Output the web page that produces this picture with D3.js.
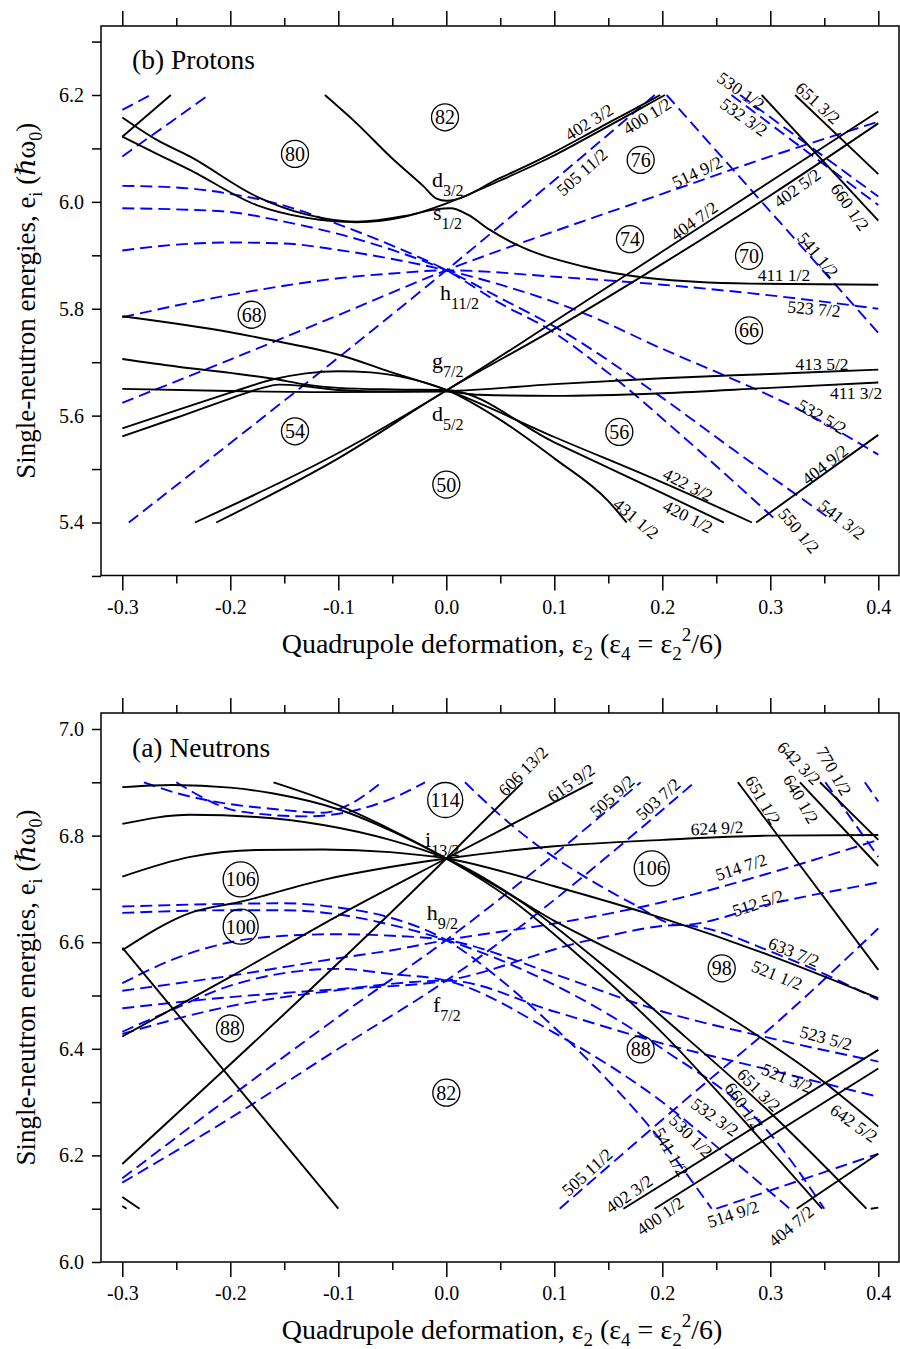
<!DOCTYPE html>
<html><head><meta charset="utf-8">
<script src="https://cdn.jsdelivr.net/npm/d3@7"></script>
<style>
body{margin:0;background:#fff}
svg{display:block}
svg text{font-family:'Liberation Serif','Times New Roman',Times,'DejaVu Serif',serif !important;fill:#000}
</style>
</head><body>
<svg id="chart" width="900" height="1349" font-family="Liberation Serif, serif"></svg>
<script>
// ---------- Proton levels (e_i vs eps2) ----------
// positive parity (solid)
const protonPositive = [
  [[-0.3,6.122],[-0.255,6.2]],
  [[-0.3,6.158],[-0.268,6.116],[-0.2375,6.085],[-0.1756,6.01],[-0.129,5.976],[-0.083,5.963],[-0.037,5.974],[-0.01,5.986],[0.004,5.988],[0.02,5.976],[0.04,5.948],[0.065,5.92],[0.127,5.879],[0.189,5.857],[0.281,5.847],[0.4,5.845]],
  [[-0.3,6.122],[-0.268,6.09],[-0.2375,6.06],[-0.1756,5.994],[-0.129,5.97],[-0.083,5.962],[-0.037,5.973],[0,5.997],[0.05,6.04],[0.096,6.083],[0.142,6.133],[0.189,6.185],[0.2025,6.2]],
  [[-0.1124,6.2],[-0.083,6.147],[-0.052,6.085],[-0.021,6.029],[-0.009,6.006],[0,6.002],[0.05,6.045],[0.096,6.089],[0.142,6.139],[0.189,6.19],[0.198,6.2]],
  [[-0.3,5.786],[-0.2,5.756],[-0.1617,5.741],[-0.098,5.713],[-0.052,5.682],[0,5.648],[0.1,5.56],[0.2,5.475],[0.283,5.4]],
  [[-0.3,5.706],[-0.25,5.692],[-0.2,5.68],[-0.16,5.669],[-0.13,5.658],[-0.1,5.652],[-0.05,5.649],[0,5.648],[0.1,5.55],[0.2,5.455],[0.257,5.4]],
  [[-0.3,5.65],[-0.2,5.646],[-0.1,5.644],[0,5.646],[0.1,5.659],[0.2,5.67],[0.3,5.678],[0.4,5.686]],
  [[-0.3,5.576],[-0.25,5.61],[-0.2,5.643],[-0.16,5.668],[-0.13,5.679],[-0.1,5.683],[-0.07,5.681],[-0.04,5.672],[0,5.648],[0.05,5.592],[0.1,5.52],[0.15,5.44],[0.167,5.4]],
  [[-0.3,5.561],[-0.25,5.596],[-0.2,5.632],[-0.17,5.652],[-0.155,5.658],[-0.13,5.655],[-0.1,5.648],[-0.05,5.645],[0,5.645],[0.03,5.639],[0.1,5.637],[0.2,5.642],[0.3,5.652],[0.4,5.662]],
  [[-0.2327,5.4],[-0.1,5.53],[0,5.647],[0.1,5.776],[0.2,5.907],[0.3,6.038],[0.4,6.169]],
  [[-0.213,5.4],[-0.1,5.52],[0,5.647],[0.1,5.762],[0.2,5.884],[0.3,6.012],[0.4,6.147]],
  [[0.287,5.4],[0.4,5.564]],
  [[0.292,6.2],[0.4,5.965]],
  [[0.323,6.2],[0.4,6.052]]
];
// negative parity (dashed)
const protonNegative = [
  [[-0.3,6.172],[-0.274,6.2]],
  [[-0.3,6.085],[-0.22,6.2]],
  [[-0.3,6.03],[-0.25,6.027],[-0.2,6.015],[-0.15,5.993],[-0.1,5.958],[-0.05,5.918],[0,5.872],[0.05,5.81],[0.093,5.764],[0.15,5.68],[0.219,5.561],[0.305,5.405]],
  [[-0.3,5.988],[-0.25,5.986],[-0.2,5.981],[-0.15,5.963],[-0.1,5.94],[-0.05,5.91],[0,5.872],[0.05,5.82],[0.105,5.761],[0.189,5.649],[0.266,5.536],[0.354,5.409]],
  [[-0.3,5.909],[-0.25,5.92],[-0.2,5.924],[-0.15,5.922],[-0.1,5.91],[-0.05,5.893],[0,5.872],[0.05,5.845],[0.127,5.792],[0.2,5.725],[0.26,5.673],[0.327,5.611],[0.4,5.527]],
  [[-0.3,5.784],[-0.25,5.806],[-0.2,5.826],[-0.15,5.843],[-0.1,5.857],[-0.05,5.866],[0,5.872],[0.1,5.86],[0.2,5.845],[0.3,5.825],[0.4,5.8]],
  [[-0.3,5.624],[-0.2,5.705],[-0.1,5.788],[0,5.872],[0.1,5.945],[0.2,6.015],[0.3,6.085],[0.4,6.15]],
  [[-0.294,5.4],[0,5.872],[0.193,6.2]],
  [[0.204,6.2],[0.4,5.755]],
  [[0.264,6.2],[0.4,5.994]],
  [[0.272,6.2],[0.4,6.01]]
];
// Nilsson labels: [text, eps, e, rotation]
const protonLevelLabels = [
  ["402 3/2",0.1321,6.1495,-32],["400 1/2",0.1858,6.1607,-32],["505 11/2",0.1256,6.056,-42],
  ["514 9/2",0.2321,6.056,-25],["404 7/2",0.2293,5.9645,-36],["402 5/2",0.3247,6.0262,-36],
  ["541 1/2",0.3442,5.901,50],["411 1/2",0.3127,5.8636,0],["530 1/2",0.2729,6.2075,35],
  ["532 3/2",0.2757,6.1589,35],["651 3/2",0.3442,6.185,42],["660 1/2",0.3738,5.9907,55],
  ["523 7/2",0.3405,5.80,5],["413 5/2",0.3479,5.6972,0],["411 3/2",0.3794,5.643,0],
  ["532 5/2",0.3479,5.5981,30],["404 9/2",0.3505,5.5084,-38],["422 3/2",0.2238,5.471,27],
  ["420 1/2",0.2238,5.4112,27],["431 1/2",0.1757,5.4075,40],["550 1/2",0.3266,5.385,50],
  ["541 3/2",0.3664,5.4056,38]
];
// spherical orbitals: [letter, subscript, eps, e]
const protonOrbitals = [
  ["d","3/2",-0.0132,6.028],["s","1/2",-0.0123,5.9664],["h","11/2",-0.0058,5.8168],
  ["g","7/2",-0.0132,5.6897],["d","5/2",-0.0132,5.5894]
];
// shell gaps: [number, eps, e]
const protonGaps = [
  ["80",-0.1401,6.0897],["82",-0.0012,6.1583],["76",0.18,6.0785],["74",0.1701,5.9303],
  ["70",0.2803,5.899],["68",-0.1802,5.7888],["66",0.2803,5.7594],["54",-0.1401,5.5707],
  ["56",0.1602,5.5695],["50",0,5.471]
];

// ---------- Neutron levels ----------
const neutronPositive = [
  [[-0.16,6.9],[-0.1,6.857],[-0.05,6.81],[0,6.757],[0.06,6.68],[0.127,6.567],[0.2,6.43],[0.28,6.255],[0.348,6.1]],
  [[-0.3,6.891],[-0.253,6.895],[-0.2,6.89],[-0.16,6.879],[-0.098,6.848],[-0.052,6.81],[0,6.757],[0.07,6.675],[0.139,6.567],[0.2,6.46],[0.3,6.28],[0.389,6.1]],
  [[-0.3,6.822],[-0.237,6.839],[-0.176,6.835],[-0.114,6.82],[-0.052,6.792],[0,6.757],[0.1,6.64],[0.2,6.535],[0.266,6.454],[0.343,6.348],[0.4,6.254]],
  [[-0.3,6.723],[-0.237,6.76],[-0.176,6.773],[-0.114,6.774],[-0.052,6.769],[0,6.757],[0.1,6.705],[0.2,6.645],[0.3,6.575],[0.4,6.495]],
  [[-0.3,6.585],[-0.237,6.655],[-0.19,6.676],[-0.114,6.717],[-0.052,6.741],[0,6.757],[0.1,6.78],[0.2,6.792],[0.3,6.8],[0.4,6.801]],
  [[-0.3,6.184],[0,6.757],[0.0707,6.9]],
  [[-0.3,6.423],[-0.2,6.535],[-0.1,6.65],[0,6.757],[0.1355,6.9]],
  [[-0.3,6.59],[-0.1,6.1]],
  [[-0.3,6.122],[-0.284,6.1]],
  [[-0.3,6.105],[-0.296,6.1]],
  [[0.164,6.1],[0.4,6.398]],
  [[0.193,6.1],[0.4,6.363]],
  [[0.3244,6.1],[0.4,6.203]],
  [[0.27,6.9],[0.4,6.548]],
  [[0.3275,6.9],[0.4,6.743]],
  [[0.346,6.9],[0.4,6.792]],
  [[0.393,6.1],[0.4,6.102]]
];
const neutronNegative = [
  [[-0.28,6.9],[-0.25,6.88],[-0.2065,6.861],[-0.16,6.85],[-0.114,6.843],[-0.09,6.858],[-0.06,6.9]],
  [[-0.25,6.9],[-0.19,6.845],[-0.129,6.836],[-0.083,6.848],[-0.05,6.87],[-0.0197,6.9]],
  [[0.0173,6.9],[0.05,6.838],[0.0775,6.792],[0.133,6.717],[0.173,6.672],[0.216,6.632],[0.3,6.672],[0.4,6.712]],
  [[-0.3,6.667],[-0.2,6.672],[-0.15,6.673],[-0.1,6.665],[-0.05,6.645],[0,6.604],[0.05,6.53],[0.1,6.44],[0.15,6.34],[0.2,6.225],[0.2457,6.1]],
  [[-0.3,6.655],[-0.2,6.66],[-0.15,6.66],[-0.1,6.652],[-0.05,6.632],[0,6.604],[0.1,6.52],[0.2,6.4],[0.3,6.24],[0.35,6.1]],
  [[-0.3,6.523],[-0.25,6.57],[-0.2,6.6],[-0.15,6.612],[-0.1,6.615],[-0.05,6.612],[0,6.604],[0.1,6.54],[0.2,6.47],[0.3,6.42],[0.4,6.376]],
  [[-0.3,6.509],[-0.2,6.537],[-0.1,6.57],[-0.05,6.585],[0,6.604],[0.1,6.635],[0.2,6.675],[0.3,6.73],[0.4,6.792]],
  [[-0.3,6.157],[-0.2,6.31],[-0.1,6.46],[0,6.604],[0.18,6.9]],
  [[-0.3,6.476],[-0.2,6.497],[-0.1,6.512],[0,6.528],[0.1,6.47],[0.2,6.41],[0.3,6.36],[0.4,6.31]],
  [[-0.3,6.149],[-0.2,6.27],[-0.1,6.4],[0,6.528],[0.23,6.9]],
  [[-0.3,6.432],[-0.254,6.473],[-0.2065,6.514],[-0.1756,6.532],[-0.1,6.55],[-0.05,6.54],[0,6.528],[0.1,6.43],[0.2,6.3],[0.26,6.2],[0.318,6.1]],
  [[-0.3,6.428],[-0.2,6.48],[-0.1,6.51],[0,6.528],[0.133,6.604],[0.216,6.632],[0.312,6.573],[0.4,6.492]],
  [[0.105,6.1],[0.219,6.3],[0.312,6.46],[0.4,6.626]],
  [[0.25,6.1],[0.4,6.203]],
  [[0.351,6.9],[0.4,6.76]],
  [[0.3875,6.9],[0.4,6.864]]
];
const neutronLevelLabels = [
  ["606 13/2",0.071,6.9212,-45],["615 9/2",0.1155,6.8987,-35],["505 9/2",0.1534,6.8743,-42],
  ["503 7/2",0.196,6.8687,-42],["624 9/2",0.2507,6.8143,-3],["651 1/2",0.2933,6.8668,60],
  ["642 3/2",0.3266,6.9362,45],["640 1/2",0.3284,6.8687,60],["770 1/2",0.359,6.9212,60],
  ["514 7/2",0.2729,6.7411,-18],["512 5/2",0.2886,6.6735,-18],["633 7/2",0.3219,6.5816,22],
  ["521 1/2",0.3062,6.5385,22],["523 5/2",0.3516,6.4203,15],["521 3/2",0.3155,6.3452,22],
  ["651 3/2",0.2895,6.3227,45],["660 1/2",0.2756,6.2927,55],["642 5/2",0.3775,6.2608,35],
  ["532 3/2",0.2488,6.272,35],["530 1/2",0.2266,6.2364,45],["541 1/2",0.208,6.2064,60],
  ["505 11/2",0.1303,6.1689,-42],["402 3/2",0.1692,6.1276,-35],["400 1/2",0.1979,6.0863,-35],
  ["514 9/2",0.2655,6.0901,-18],["404 7/2",0.3192,6.0675,-40]
];
const neutronOrbitals = [
  ["i","13/2",-0.0197,6.7786],["h","9/2",-0.0182,6.6417],["f","7/2",-0.0123,6.4696]
];
const neutronGaps = [
  ["114",-0.001,6.8668],["106",-0.1904,6.718],["100",-0.1904,6.6291],["106",0.1902,6.7386],
  ["98",0.255,6.551],["88",-0.2003,6.4385],["88",0.18,6.399],["82",0,6.3176]
];

// axis ticks
const xMajor = [-0.3,-0.2,-0.1,0.0,0.1,0.2,0.3,0.4];
const xMinor = [-0.25,-0.15,-0.05,0.05,0.15,0.25,0.35];
const protonYTicks = d3.range(53,64).map(v => v/10);
const neutronYTicks = d3.range(60,71).map(v => v/10);

// ---------- drawing ----------
const svg = d3.select("#chart");
const X0 = 101, X1 = 899;
const x = d3.scaleLinear().domain([-0.3,0.4]).range([122.3,878.3]);
const fmt = d => d.toFixed(1);
const FONT = "Liberation Serif, serif";

function drawPanel(p) {
  const y = p.y;
  const g = svg.append("g");
  g.append("clipPath").attr("id", p.id).append("rect")
    .attr("x", X0).attr("y", p.top).attr("width", X1 - X0).attr("height", p.bottom - p.top);
  const line = d3.line().x(d => x(d[0])).y(d => y(d[1])).curve(d3.curveMonotoneX);
  const plot = g.append("g").attr("clip-path", `url(#${p.id})`);
  plot.selectAll("path.neg").data(p.dashed).join("path").attr("class","neg")
    .attr("d", line).attr("fill","none").attr("stroke","#0000ff")
    .attr("stroke-width",1.9).attr("stroke-dasharray","12,6");
  plot.selectAll("path.pos").data(p.solid).join("path").attr("class","pos")
    .attr("d", line).attr("fill","none").attr("stroke","#000").attr("stroke-width",1.9);

  // frame
  g.append("rect").attr("x",X0).attr("y",p.top).attr("width",X1-X0).attr("height",p.bottom-p.top)
    .attr("fill","none").attr("stroke","#000").attr("stroke-width",1.5);

  // x axes
  g.append("g").attr("transform",`translate(0,${p.bottom})`)
    .call(d3.axisBottom(x).tickValues(xMajor).tickSize(15).tickPadding(9).tickFormat(fmt));
  g.append("g").attr("transform",`translate(0,${p.bottom})`)
    .call(d3.axisBottom(x).tickValues(xMinor).tickSize(8).tickFormat(""));
  g.append("g").attr("transform",`translate(0,${p.top})`)
    .call(d3.axisTop(x).tickValues(xMajor).tickSize(15).tickFormat(""));
  g.append("g").attr("transform",`translate(0,${p.top})`)
    .call(d3.axisTop(x).tickValues(xMinor).tickSize(8).tickFormat(""));
  g.append("g").attr("transform",`translate(${X0},0)`)
    .call(d3.axisLeft(y).tickValues(p.yTicks).tickSize(9).tickPadding(8)
      .tickFormat(d => Math.round(d*10) % 2 === 0 ? fmt(d) : ""));
  g.selectAll(".domain").remove();
  g.selectAll("g[font-family]").attr("font-family", FONT);
  g.selectAll(".tick line").attr("stroke","#000").attr("stroke-width",1.5);
  g.selectAll(".tick text").attr("font-size",20);

  // shell-gap numbers
  const gaps = g.selectAll("g.gap").data(p.gaps).join("g").attr("class","gap")
    .attr("transform", d => `translate(${x(d[1])},${y(d[2])})`);
  gaps.append("circle").attr("r", d => d[0].length > 2 ? 17.5 : 13.5)
    .attr("fill","none").attr("stroke","#000").attr("stroke-width",1.3);
  gaps.append("text").attr("text-anchor","middle").attr("dy","0.35em")
    .attr("font-size",20).text(d => d[0]);

  // spherical orbitals
  const orb = g.selectAll("text.orb").data(p.orbitals).join("text").attr("class","orb")
    .attr("x", d => x(d[2])).attr("y", d => y(d[3])).attr("font-size",22);
  orb.append("tspan").text(d => d[0]);
  orb.append("tspan").attr("dy",9).attr("font-size",16).text(d => d[1]);

  // Nilsson labels
  g.selectAll("text.lvl").data(p.levels).join("text").attr("class","lvl")
    .attr("text-anchor","middle").attr("dy","0.35em").attr("font-size",17.5)
    .attr("transform", d => `translate(${x(d[1])},${y(d[2])}) rotate(${d[3]})`)
    .text(d => d[0]);

  // panel title
  g.append("text").attr("x",132).attr("y",p.titleY).attr("font-size",27.5).text(p.title);

  // axis titles
  const xt = g.append("text").attr("x",502).attr("y",p.bottom + 77).attr("text-anchor","middle").attr("font-size",28);
  xt.append("tspan").text("Quadrupole deformation, ε");
  xt.append("tspan").attr("dy",7).attr("font-size",19).text("2");
  xt.append("tspan").attr("dy",-7).text(" (ε");
  xt.append("tspan").attr("dy",7).attr("font-size",19).text("4");
  xt.append("tspan").attr("dy",-7).text(" =  ε");
  xt.append("tspan").attr("dy",7).attr("font-size",19).text("2");
  xt.append("tspan").attr("dy",-19).attr("font-size",19).text("2");
  xt.append("tspan").attr("dy",12).text("/6)");

  const cy = (p.top + p.bottom) / 2;
  const yt = g.append("text").attr("transform",`translate(35,${cy}) rotate(-90)`)
    .attr("text-anchor","middle").attr("font-size",27);
  yt.append("tspan").text("Single-neutron energies, e");
  yt.append("tspan").attr("dy",7).attr("font-size",18).text("i");
  yt.append("tspan").attr("dy",-7).text(" (ℏω");
  yt.append("tspan").attr("dy",7).attr("font-size",18).text("0");
  yt.append("tspan").attr("dy",-7).text(")");
}

drawPanel({
  id:"clipP", top:26, bottom:575.5,
  y: d3.scaleLinear().domain([5.4,6.2]).range([522.5,95]),
  solid: protonPositive, dashed: protonNegative, levels: protonLevelLabels,
  orbitals: protonOrbitals, gaps: protonGaps, yTicks: protonYTicks,
  title:"(b) Protons", titleY:69
});
drawPanel({
  id:"clipN", top:713, bottom:1262,
  y: d3.scaleLinear().domain([6.0,7.0]).range([1262,729]),
  solid: neutronPositive, dashed: neutronNegative, levels: neutronLevelLabels,
  orbitals: neutronOrbitals, gaps: neutronGaps, yTicks: neutronYTicks,
  title:"(a) Neutrons", titleY:757
});
</script>
</body></html>
